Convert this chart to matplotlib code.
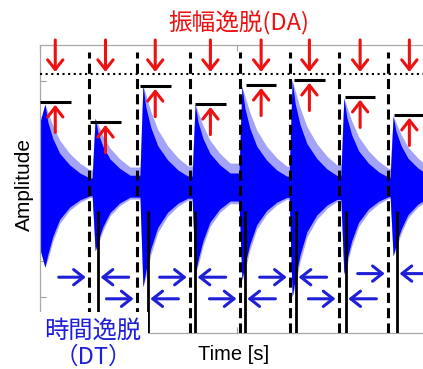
import matplotlib
matplotlib.use("Agg")
import matplotlib.pyplot as plt
from matplotlib.patches import Rectangle

plt.rcParams["font.family"] = ["Liberation Sans", "DejaVu Sans"]
CJK = ["Noto Sans CJK JP", "DejaVu Sans"]

# --- vibration bursts: peak time and upper / lower envelope extremes ---------
peak_t = [0.10, 1.12, 2.09, 3.15, 4.10, 5.12, 6.17, 7.17]
peak_hi = [2.36, 1.97, 2.89, 2.36, 2.86, 3.03, 2.53, 2.03]
peak_lo = [-2.17, -1.72, -2.72, -2.36, -2.53, -3.00, -2.36, -1.86]
center = 0.08
first_frac = 0.78          # burst 1 is already running at t = 0
rise = 0.06                # onset -> peak

# shared decay profile (fraction of peak amplitude vs time after the peak)
decay_dt = [0.0, 0.06, 0.16, 0.30, 0.50, 0.71, 0.91]
decay_hi_core = [1.0, 0.78, 0.58, 0.40, 0.26, 0.16, 0.10]
decay_hi_soft = [1.0, 0.90, 0.74, 0.56, 0.40, 0.28, 0.20]
decay_lo_core = [1.0, 0.84, 0.62, 0.41, 0.26, 0.17, 0.12]
decay_lo_soft = [1.0, 0.90, 0.68, 0.46, 0.30, 0.20, 0.14]

# --- amplitude deviation (DA): measured peak vs reference level --------------
da_start = [0.00, 1.02, 2.03, 3.15, 4.18, 5.16, 6.19, 7.19]
da_level = [2.42, 1.86, 2.86, 2.36, 2.89, 3.03, 2.56, 2.06]
da_ref = 3.2
da_len = 0.62

# --- time deviation (DT): expected vs actual onset ---------------------------
dt_expected = [1.00, 1.97, 3.05, 4.06, 5.08, 6.07, 7.07]
dt_actual = [1.18, 2.19, 3.15, 4.16, 5.20, 6.21, 7.25]
dt_arrow_y = [-2.45, -3.05, -2.45, -3.05, -2.45, -3.05, -2.35]

RED = "#ee1111"
BLUE_TXT = "#1f1fd8"


def envelope():
    t, hc, hs, lc, ls = [], [], [], [], []
    n = len(peak_t)
    for i, tp in enumerate(peak_t):
        a_hi = peak_hi[i] - center
        a_lo = center - peak_lo[i]
        if i == 0:
            t.append(0.0)
            hc.append(first_frac * a_hi); hs.append(first_frac * a_hi)
            lc.append(first_frac * a_lo); ls.append(first_frac * a_lo)
        t_next = peak_t[i + 1] - rise if i + 1 < n else 8.3
        for k, d in enumerate(decay_dt):
            if tp + d >= t_next:
                break
            t.append(tp + d)
            hc.append(decay_hi_core[k] * a_hi); hs.append(decay_hi_soft[k] * a_hi)
            lc.append(decay_lo_core[k] * a_lo); ls.append(decay_lo_soft[k] * a_lo)
        t.append(t_next)
        hc.append(hc[-1]); hs.append(hs[-1]); lc.append(lc[-1]); ls.append(ls[-1])
    return t, hc, hs, lc, ls


def arrow(ax, tail, tip, color):
    ax.annotate("", xy=tip, xytext=tail,
                arrowprops=dict(arrowstyle="->,head_length=7,head_width=5.5",
                                mutation_scale=1, color=color, lw=2.2,
                                shrinkA=0, shrinkB=0), zorder=6)


W, H = 423, 369
fig = plt.figure(figsize=(W / 100, H / 100), dpi=100)
ax = fig.add_axes([40 / W, 36 / H, 394 / W, 288 / H])
ax.set_xlim(0, 8)
ax.set_ylim(-4, 4)

t, hc, hs, lc, ls = envelope()
ax.fill_between(t, [center + v for v in hs], [center - v for v in ls],
                color="#a4a4f6", lw=0, zorder=1)
ax.fill_between(t, [center + v for v in hc], [center - v for v in lc],
                color="#0000ff", lw=0, zorder=2)

# reference level + measured peaks
ax.axhline(da_ref, color="black", lw=1.5, linestyle=(0, (1, 1.7)), zorder=4)
ax.hlines(da_level, da_start, [s + da_len for s in da_start],
          color="black", lw=2.2, zorder=4)
for s, lv in zip(da_start, da_level):
    c = s + da_len / 2
    arrow(ax, (c, 4.14), (c, da_ref + 0.05), RED)
    arrow(ax, (c, lv - 0.85), (c, lv - 0.08), RED)

# expected (dashed) and actual (solid) onsets
ax.vlines(dt_expected, -4, 3.81, color="black", lw=2.2,
          linestyles=[(0, (3.3, 1.7))], zorder=4)
ax.vlines(dt_actual, -4, -0.61, color="black", lw=2.0, zorder=4)
for e, a, y in zip(dt_expected, dt_actual, dt_arrow_y):
    arrow(ax, (e - 0.62, y), (e - 0.07, y), BLUE_TXT)
    arrow(ax, (a + 0.62, y), (a + 0.05, y), BLUE_TXT)

ax.set_xticks([0, 4, 8])
ax.set_yticks([-3, -2, -1, 0, 1, 2, 3])
ax.tick_params(direction="in", length=4, width=0.8, color="#a0a0a0",
               top=True, right=True, labelleft=False, labelbottom=False)
for sp in ax.spines.values():
    sp.set_color("#a8a8a8")
    sp.set_linewidth(0.9)

fig.text(24 / W, 1 - 185 / H, "Amplitude", rotation=90, fontsize=15,
         ha="center", va="center")
fig.text(234 / W, 1 - 354 / H, "Time [s]", fontsize=14.5, ha="center", va="center")
fig.text(239 / W, 1 - 23 / H, "振幅逸脱(DA)", color=RED, fontsize=17,
         family=CJK, ha="center", va="center")

fig.add_artist(Rectangle((37 / W, 0), 111 / W, 57 / H, transform=fig.transFigure,
                         facecolor="white", edgecolor="none", zorder=5))
fig.text(93 / W, 1 - 331 / H, "時間逸脱", color=BLUE_TXT, fontsize=17.5,
         family=CJK, ha="center", va="center", zorder=6)
fig.text(93 / W, 1 - 357 / H, "（DT）", color=BLUE_TXT, fontsize=17,
         family=CJK, ha="center", va="center", zorder=6)

fig.savefig("out.png", dpi=100)
